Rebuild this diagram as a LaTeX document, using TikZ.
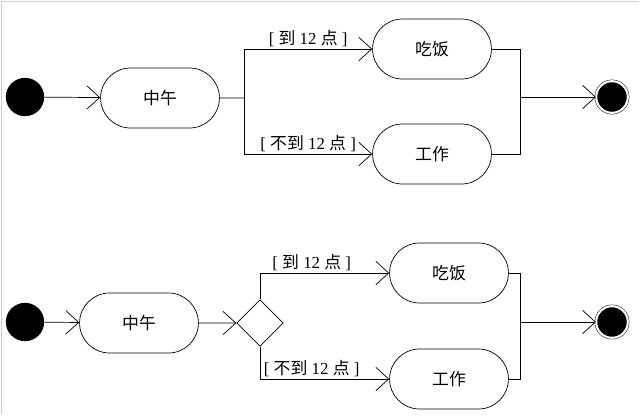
\documentclass[tikz,border=0pt]{standalone}
\usepackage{fontspec}
\setmainfont{Liberation Serif}
\newfontfamily\cjk{Noto Sans CJK SC}
\usetikzlibrary{arrows.meta,shapes.geometric,shapes.misc}
\begin{document}
\begin{tikzpicture}[x=0.03cm, y=-0.03cm,
        act/.style = {draw, rounded rectangle, minimum width=3.8cm, minimum height=1.8cm, font=\cjk\Large, line width=.6pt},
        init/.style = {circle, fill=black, minimum size=1.15cm, inner sep=0pt},
        fin/.style = {circle, draw, double, double distance=1.8pt, fill=black, minimum size=0.95cm, inner sep=0pt},
        flow/.style = {line width=.6pt, -{Straight Barb[length=11pt, width=20pt]}},
        line/.style = {line width=.6pt},
        guard/.style = {font=\Large, inner sep=2pt}]
    \useasboundingbox (0,0) rectangle (640,415);
    \draw[gray!40] (1,1) -- (1,414);
    \draw[gray!40] (1,1) -- (639,1);

    % upper diagram
    \node[init] (s1) at (25,97) {};
    \node[act] (noon1) at (160,98) {中午};
    \node[act] (eat1) at (432,49) {吃饭};
    \node[act] (work1) at (432,154) {工作};
    \node[fin] (e1) at (612,97) {};
    \coordinate (j1) at (244,98);
    \coordinate (m1) at (520,97);
    \draw[flow] (s1) -- (noon1);
    \draw[line] (noon1) -- (j1);
    \draw[flow] (j1) |- node[guard, pos=.75, above] {[ {\cjk 到} 12 {\cjk 点} ]} (eat1.west);
    \draw[flow] (j1) |- node[guard, pos=.75, above] {[ {\cjk 不到} 12 {\cjk 点} ]} (work1.west);
    \draw[line] (eat1.east) -| (m1);
    \draw[line] (work1.east) -| (m1);
    \draw[flow] (m1) -- (e1);

    % lower diagram
    \node[init] (s2) at (25,322) {};
    \node[act] (noon2) at (139,323) {中午};
    \node[draw, diamond, line width=.6pt, minimum size=1.4cm, inner sep=0pt] (d2) at (260,323) {};
    \node[act] (eat2) at (449,273) {吃饭};
    \node[act] (work2) at (449,379) {工作};
    \node[fin] (e2) at (612,322) {};
    \coordinate (m2) at (520,322);
    \draw[flow] (s2) -- (noon2);
    \draw[flow] (noon2) -- (d2);
    \draw[flow] (d2.north) |- node[guard, pos=.7, above] {[ {\cjk 到} 12 {\cjk 点} ]} (eat2.west);
    \draw[flow] (d2.south) |- node[guard, pos=.7, above] {[ {\cjk 不到} 12 {\cjk 点} ]} (work2.west);
    \draw[line] (eat2.east) -| (m2);
    \draw[line] (work2.east) -| (m2);
    \draw[flow] (m2) -- (e2);
\end{tikzpicture}
\end{document}
